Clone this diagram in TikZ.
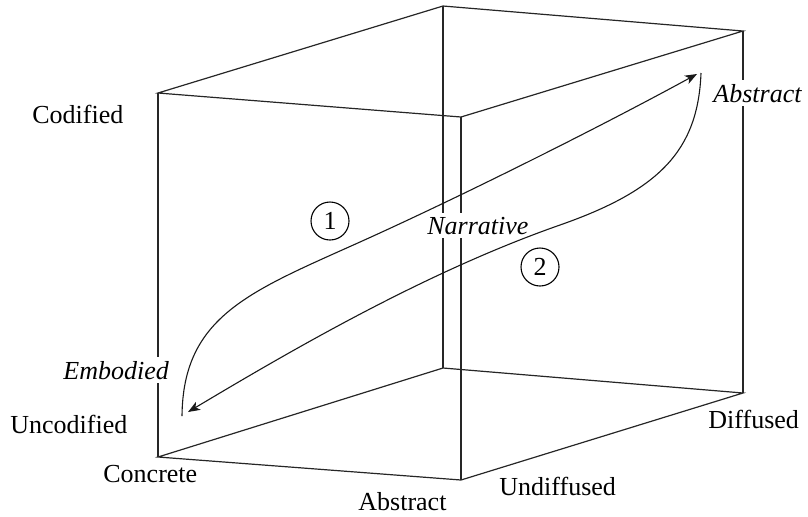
\documentclass[tikz,border=0pt]{standalone}
\usepackage{fontspec}
\setmainfont{Liberation Serif}
\usetikzlibrary{arrows.meta}
\tikzset{
  edge/.style={line width=0.6pt, black!85},
  curve/.style={line width=0.55pt, black!90},
  arr/.style={-{Stealth[length=6pt,width=4.6pt,inset=1.6pt]}},
  lbl/.style={inner sep=0pt, font=\fontsize{13}{15}\selectfont},
  ilbl/.style={inner sep=2pt, fill=white, font=\fontsize{13}{15}\selectfont\itshape},
  num/.style={circle, draw, line width=0.55pt, minimum size=19pt, inner sep=0pt, font=\fontsize{13}{15}\selectfont}
}
\begin{document}
\begin{tikzpicture}[x=0.5pt,y=-0.5pt]
\useasboundingbox (0,0) rectangle (808,516);
% cube vertices
\coordinate (TL) at (158,93);
\coordinate (TB) at (443,6);
\coordinate (TR) at (743,31);
\coordinate (TF) at (461,117);
\coordinate (BL) at (158,457);
\coordinate (BB) at (443,368);
\coordinate (BR) at (743,393);
\coordinate (BF) at (461,480);
% edges
\draw[edge] (TL) -- (TB) -- (TR) -- (TF) -- cycle;
\draw[edge] (BL) -- (BB) -- (BR) -- (BF) -- cycle;
\draw[edge] (TL) -- (BL);
\draw[edge] (TB) -- (BB);
\draw[edge] (TF) -- (BF);
\draw[edge] (TR) -- (BR);
% labels
\node[lbl, anchor=base west] (cod) at (32,123) {Codified};
\node[lbl, anchor=base west] (uncod) at (10,433) {Uncodified};
\node[lbl, anchor=base west] (conc) at (103,482) {Concrete};
\node[lbl, anchor=base west] (abs) at (358,510) {Abstract};
\node[lbl, anchor=base west] (undif) at (499,495) {Undiffused};
\node[lbl, anchor=base west] (dif) at (708,428) {Diffused};
\node[ilbl, anchor=base west] (iabs) at (709,102) {Abstract};
\node[ilbl, anchor=base west] (narr) at (423,234) {Narrative};
\node[ilbl, anchor=base west] (emb) at (59,379) {Embodied};
\node[num] (one) at (330,221) {1};
\node[num] (two) at (540,267) {2};
% curves
\coordinate (aStart) at (182,416);
\coordinate (aMid) at (360,242);
\coordinate (aEnd) at (697,74);
\coordinate (bStart) at (701,73);
\coordinate (bMid) at (560,225);
\coordinate (bEnd) at (188,412);
\draw[curve, arr] (aStart) .. controls (183,316) and (250,291.5) .. (aMid) .. controls (460,197) and (600,127) .. (aEnd);
\draw[curve, arr] (bStart) .. controls (698,150) and (660,190) .. (bMid) .. controls (430,270.5) and (300,345) .. (bEnd);
\end{tikzpicture}
\end{document}
